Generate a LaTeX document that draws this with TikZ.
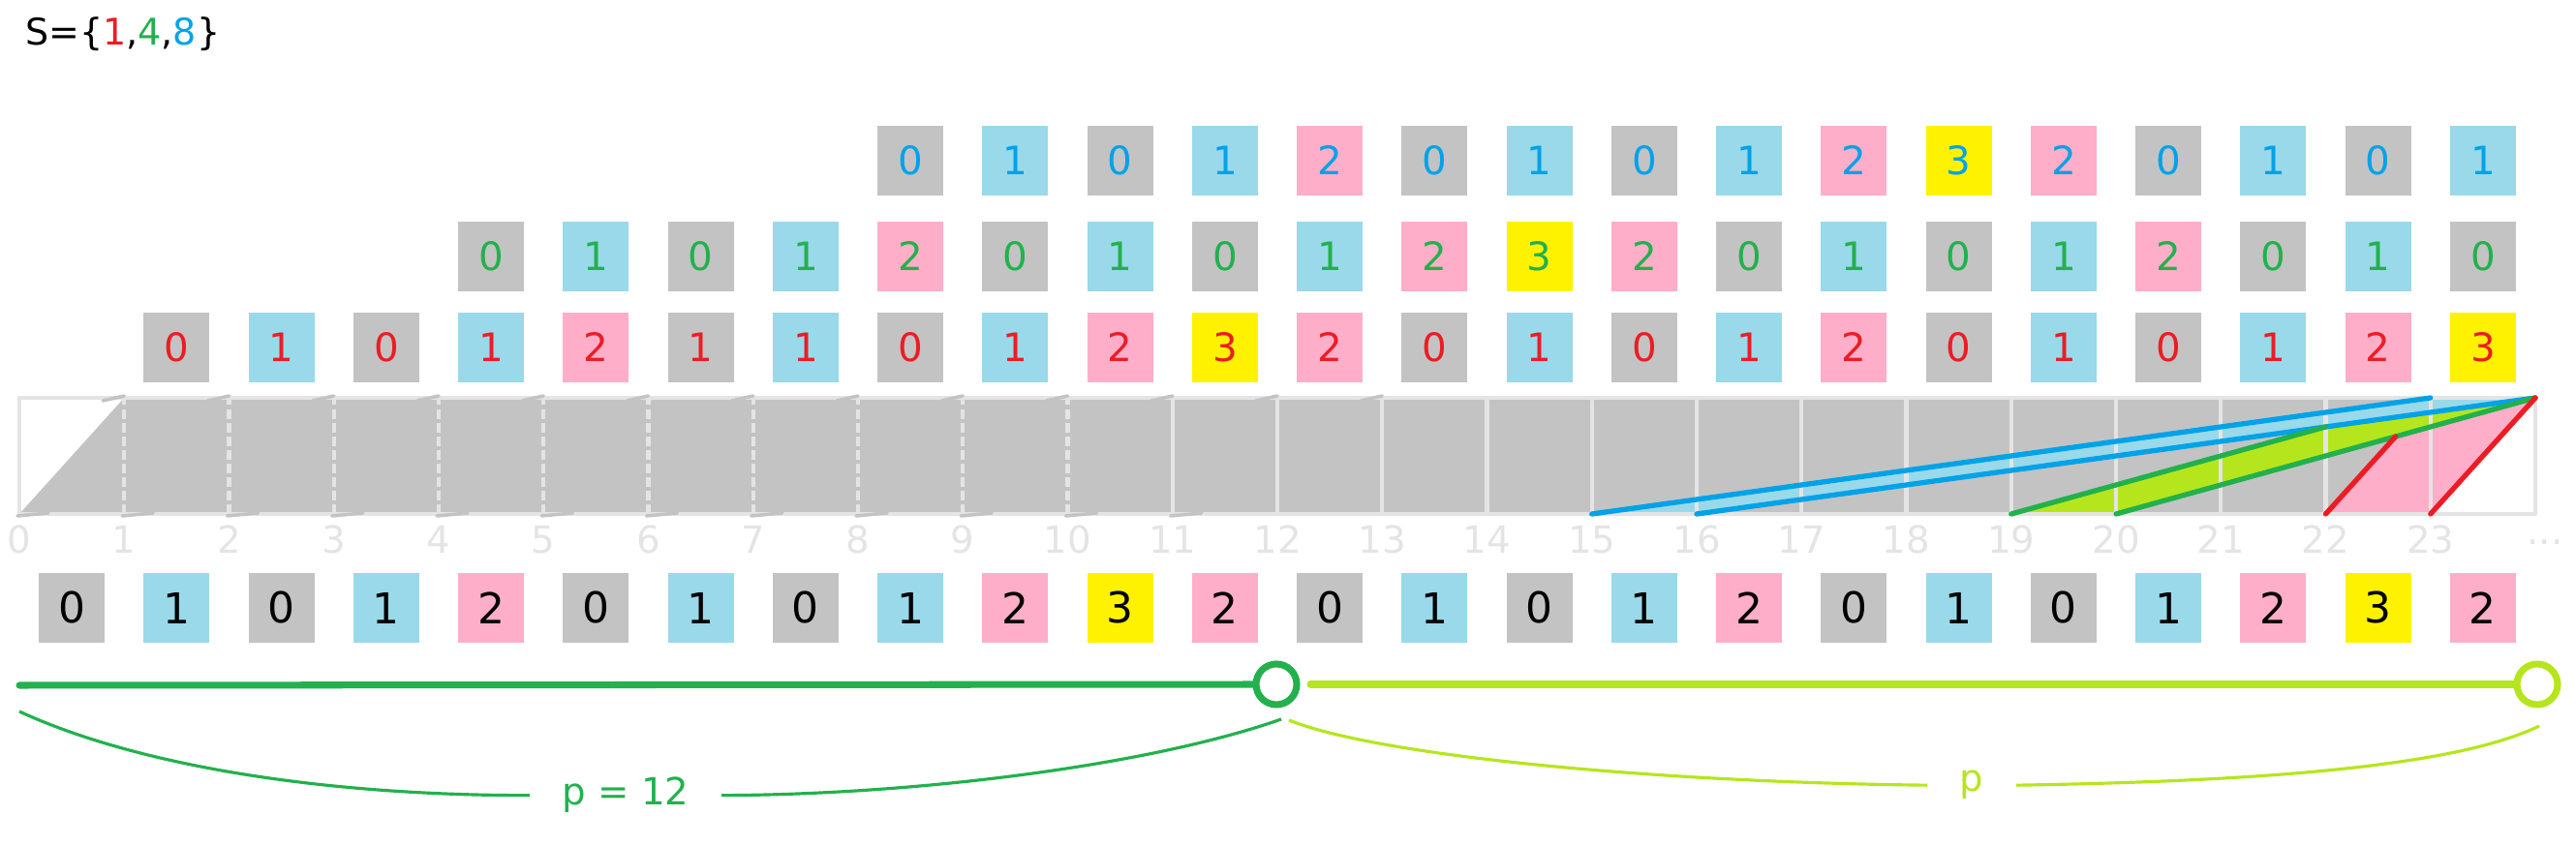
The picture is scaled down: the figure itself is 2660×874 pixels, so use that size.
\documentclass[tikz,border=0pt]{standalone}
\usepackage{fontspec}
\setmainfont{DejaVu Sans}
\usetikzlibrary{calc}

\definecolor{cellgray}{HTML}{C3C3C3}
\definecolor{cellblue}{HTML}{99D9EA}
\definecolor{cellpink}{HTML}{FFAEC9}
\definecolor{cellyellow}{HTML}{FFF200}
\definecolor{celllime}{HTML}{B5E61D}
\definecolor{lineblue}{HTML}{00A2E8}
\definecolor{linegreen}{HTML}{22B14C}
\definecolor{linered}{HTML}{ED1C24}
\definecolor{gridgray}{HTML}{E4E4E4}
\colorlet{val0}{cellgray}
\colorlet{val1}{cellblue}
\colorlet{val2}{cellpink}
\colorlet{val3}{cellyellow}

\begin{document}
\begin{tikzpicture}[x=0.01cm, y=-0.01cm, line join=round,
    cell/.style={minimum width=0.68cm, minimum height=0.72cm, inner sep=0pt, font=\fontsize{11.5}{14}\selectfont},
    colnum/.style={anchor=base, text=gridgray, font=\fontsize{11}{13}\selectfont},
    gridline/.style={draw=gridgray, line width=1.2pt},
    graytick/.style={draw=cellgray, line width=1pt, line cap=round},
    shiftline/.style={line width=1.5pt, line cap=round},
    ring/.style={circle, draw, line width=2pt, minimum size=0.42cm, inner sep=0pt},
    brace/.style={line width=0.9pt},
    rangelabel/.style={anchor=base, inner xsep=0.33cm, font=\fontsize{11}{13}\selectfont}]
    \useasboundingbox (0,0) rectangle (2660,874);

    % The set of shifts
    \node[anchor=base west, font=\fontsize{10.8}{13}\selectfont] (sset) at (14,47)
        {S=\{\textcolor{linered}{1},\textcolor{linegreen}{4},\textcolor{lineblue}{8}\}};

    % Define grid corners (bottom and top of every column line)
    \foreach \i in {0,...,24} {
        \coordinate (b\i) at ({20+108.25*\i},531);
        \coordinate (t\i) at ({20+108.25*\i},411);
    }
    % Ends of the cut lines
    \coordinate (gx) at ($(b19)!0.75!(t23)$);
    \coordinate (rx) at ($(b22)!0.6667!(t23)$);

    % Fill the covered area
    \fill[cellgray] (b0) -- (t1) -- (t24) -- (b23) -- cycle;
    \fill[cellblue] (b15) -- (t23) -- (t24) -- (b16) -- cycle;
    \fill[celllime] (b19) -- (gx) -- (t24) -- (b20) -- cycle;
    \fill[cellpink] (b22) -- (rx) -- (t24) -- (b23) -- cycle;

    % Draw grid
    \draw[gridline] (t0) -- (t24) -- (b24) -- (b0) -- cycle;
    \foreach \i in {1,...,10}
        \draw[gridline, dash pattern=on 2.8pt off 1.2pt] (b\i) -- (t\i);
    \foreach \i in {11,...,23}
        \draw[gridline] (b\i) -- (t\i);
    \foreach \i in {1,...,13}
        \draw[graytick] ($(t\i)+(-22,3)$) -- ($(t\i)+(0,-2)$);
    \foreach \i in {0,...,11}
        \draw[graytick] ($(b\i)+(-2,2)$) -- ($(b\i)+(30,-1)$);

    % Column numbers
    \foreach \i in {0,...,23}
        \node[colnum] (n\i) at ($(b\i)+(0,41)$) {\i};
    \node[text=gridgray, font=\fontsize{11}{13}\selectfont] (ndots) at (2628,560) {...};

    % Draw shifted lines
    \draw[shiftline, lineblue] (b15) -- (t23);
    \draw[shiftline, lineblue] (b16) -- (t24);
    \draw[shiftline, linegreen] (b19) -- (gx);
    \draw[shiftline, linegreen] (b20) -- (t24);
    \draw[shiftline, linered] (b22) -- (rx);
    \draw[shiftline, linered] (b23) -- (t24);

    % Rows of values: shift 8, shift 4, shift 1
    \foreach \v/\c [count=\i from 8] in {0/0,1/1,0/0,1/1,2/2,0/0,1/1,0/0,1/1,2/2,3/3,2/2,0/0,1/1,0/0,1/1}
        \node[cell, fill=val\c, text=lineblue] (s\i) at ({74.125+108.25*\i},166) {\v};
    \foreach \v/\c [count=\i from 4] in {0/0,1/1,0/0,1/1,2/2,0/0,1/1,0/0,1/1,2/2,3/3,2/2,0/0,1/1,0/0,1/1,2/2,0/0,1/1,0/0}
        \node[cell, fill=val\c, text=linegreen] (f\i) at ({74.125+108.25*\i},265) {\v};
    \foreach \v/\c [count=\i from 1] in {0/0,1/1,0/0,1/1,2/2,1/0,1/1,0/0,1/1,2/2,3/3,2/2,0/0,1/1,0/0,1/1,2/2,0/0,1/1,0/0,1/1,2/2,3/3}
        \node[cell, fill=val\c, text=linered] (o\i) at ({74.125+108.25*\i},359) {\v};

    % Resulting row
    \foreach \v/\c [count=\i from 0] in {0/0,1/1,0/0,1/1,2/2,0/0,1/1,0/0,1/1,2/2,3/3,2/2,0/0,1/1,0/0,1/1,2/2,0/0,1/1,0/0,1/1,2/2,3/3,2/2}
        \node[cell, fill=val\c, font=\fontsize{12.5}{15}\selectfont] (k\i) at ({74.125+108.25*\i},628) {\v};

    % Period marks
    \coordinate (pstart) at (20,708);
    \node[ring, draw=linegreen] (pmid) at (1318,707) {};
    \node[ring, draw=celllime] (pend) at (2620,707) {};
    \draw[line width=2pt, line cap=round, linegreen] (pstart) -- (pmid);
    \draw[line width=2pt, line cap=round, celllime, shorten <=3pt] (pmid) -- (pend);

    % Braces with labels
    \node[rangelabel, text=linegreen] (plen) at (646,832) {p = 12};
    \node[rangelabel, text=celllime] (prep) at (2036,818) {p};
    \coordinate (gl) at (20,735);
    \coordinate (gr) at (1323,743);
    \coordinate (ll) at (1331,744);
    \coordinate (lr) at (2622,750);
    \draw[brace, linegreen] (gl) .. controls (150,795) and (350,822) .. (plen.west);
    \draw[brace, linegreen] (plen.east) .. controls (950,821) and (1190,790) .. (gr);
    \draw[brace, celllime] (ll) .. controls (1420,780) and (1700,808) .. (prep.west);
    \draw[brace, celllime] (prep.east) .. controls (2350,807) and (2540,790) .. (lr);
\end{tikzpicture}
\end{document}
